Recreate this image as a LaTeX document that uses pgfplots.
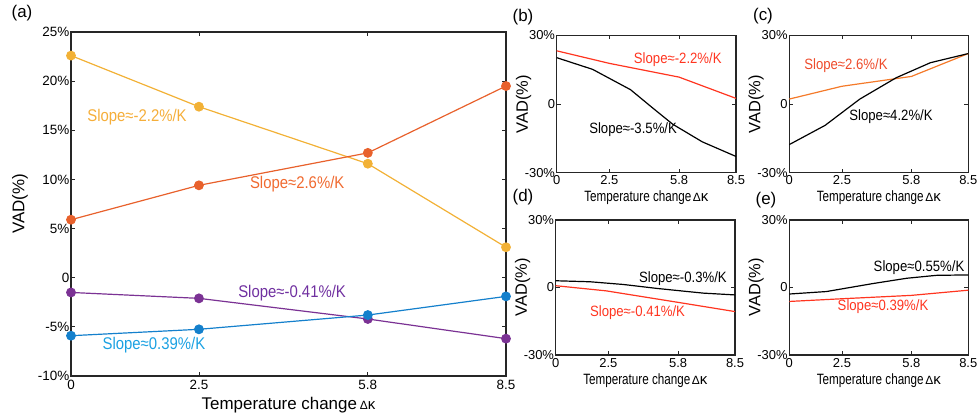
\documentclass[border=0pt]{standalone}
\usepackage{pgfplots}
\pgfplotsset{compat=1.18}
\usepackage{fontspec}
\setmainfont{Liberation Sans}
\newfontfamily\condA[FakeStretch=0.88]{Liberation Sans}
\newfontfamily\condB[FakeStretch=0.78]{Liberation Sans}
\definecolor{cyel}{HTML}{F2B136}
\definecolor{cora}{HTML}{E8612C}
\definecolor{cpur}{HTML}{7B3294}
\definecolor{cblu}{HTML}{1480CC}
\definecolor{tyel}{HTML}{F5AE3A}
\definecolor{tora}{HTML}{F06A30}
\definecolor{tpur}{HTML}{7030A0}
\definecolor{tblu}{HTML}{1BA1E2}
\definecolor{cred}{HTML}{FF3520}
\definecolor{corc}{HTML}{F47A2A}
\definecolor{treC}{HTML}{EE4B2B}
\newcommand{\dk}{\,{\fontsize{12}{12}\selectfont Δ}{\fontsize{15}{15}\selectfont κ}}
\pgfplotsset{
  base/.style={scale only axis, clip=false,
    axis line style={line width=1.2bp, black!85},
    tick style={black!85, line width=0.8bp},
    tick align=inside,
    major tick length=4bp,
    /pgf/number format/assume math mode=true,
    tick label style={font=\fontsize{13.5}{13.5}\selectfont},
    xmin=0, xmax=8.5,
    xtick={0,2.5,5.8,8.5}, xticklabels={0,2.5,5.8,8.5},
    xticklabel style={yshift=-1bp},
    yticklabel style={inner xsep=1.5bp},
  },
  small/.style={base, ymin=-30, ymax=30, ytick={-30,0,30},
    yticklabels={-30\%,0,30\%},
    tick label style={font=\fontsize{13}{13}\selectfont},
    xticklabel style={yshift=0bp, inner ysep=2bp},
    xlabel={{\condB\fontsize{15}{15}\selectfont Temperature change}\dk},
    ylabel={\fontsize{16.5}{16.5}\selectfont VAD(\%)},
    ylabel style={at={(axis description cs:-0.185,0.5)}, anchor=center},
  },
}
\begin{document}
\begin{tikzpicture}
\path[use as bounding box] (0bp,0bp) rectangle (979bp,419bp);
% panel (a)
\begin{axis}[base, at={(71bp,43bp)}, anchor=south west, width=435bp, height=344bp,
  ymin=-10, ymax=25, ytick={-10,-5,0,5,10,15,20,25},
  yticklabels={-10\%,-5\%,0,5\%,10\%,15\%,20\%,25\%},
  xlabel={\fontsize{17}{17}\selectfont Temperature change\dk},
  xlabel style={at={(axis description cs:0.5,-0.084)}, anchor=center},
  ylabel={\fontsize{17}{17}\selectfont VAD(\%)},
  ylabel style={at={(axis description cs:-0.117,0.5)}, anchor=center},
  every axis plot/.append style={line width=1.2bp, mark=*, mark size=4.3bp},
]
\addplot[cyel, mark options={fill=cyel, draw=cyel}] coordinates {(0,22.6)(2.5,17.4)(5.8,11.6)(8.5,3.1)};
\addplot[cora, mark options={fill=cora, draw=cora}] coordinates {(0,5.9)(2.5,9.4)(5.8,12.7)(8.5,19.5)};
\addplot[cpur, mark options={fill=cpur, draw=cpur}] coordinates {(0,-1.5)(2.5,-2.1)(5.8,-4.2)(8.5,-6.2)};
\addplot[cblu, mark options={fill=cblu, draw=cblu}] coordinates {(0,-5.9)(2.5,-5.25)(5.8,-3.8)(8.5,-1.9)};
\node[tyel, font=\condA\fontsize{17}{17}\selectfont] at (axis cs:1.29,16.35) {Slope≈-2.2\%/K};
\node[tora, font=\condA\fontsize{17}{17}\selectfont] at (axis cs:4.42,9.53) {Slope≈2.6\%/K};
\node[tpur, font=\condA\fontsize{17}{17}\selectfont] at (axis cs:4.32,-1.56) {Slope≈-0.41\%/K};
\node[tblu, font=\condA\fontsize{17}{17}\selectfont] at (axis cs:1.62,-6.85) {Slope≈0.39\%/K};
\end{axis}
\node[font=\fontsize{17}{17}\selectfont] at (22bp,406bp) {(a)};
% panel (b)
\begin{axis}[small, at={(556.7bp,246.3bp)}, anchor=south west, width=179.3bp, height=137.2bp,
  xlabel style={at={(axis description cs:0.5,-0.18)}, anchor=center},
  every axis plot/.append style={line width=1.2bp, no marks}]
\addplot[cred] coordinates {(0,23.3)(2.5,17.8)(5.8,11.8)(8.5,2.5)};
\addplot[black] coordinates {(0,20.3)(1.7,15.2)(3.5,6.3)(4.59,-2.0)(5.5,-8.8)(6.9,-16.5)(8.5,-22.9)};
\node[cred, font=\condA\fontsize{15}{15}\selectfont] at (axis cs:5.74,19.5) {Slope≈-2.2\%/K};
\node[black, font=\condA\fontsize{15}{15}\selectfont] at (axis cs:3.62,-11) {Slope≈-3.5\%/K};
\end{axis}
\node[font=\fontsize{17}{17}\selectfont] at (523bp,402bp) {(b)};
% panel (c)
\begin{axis}[small, at={(789.3bp,246.3bp)}, anchor=south west, width=179bp, height=137.2bp,
  xlabel style={at={(axis description cs:0.5,-0.18)}, anchor=center},
  every axis plot/.append style={line width=1.2bp, no marks}]
\addplot[corc] coordinates {(0,2.2)(2.5,7.8)(5.8,12.1)(8.5,22.1)};
\addplot[black] coordinates {(0,-17.7)(1.7,-9.3)(3.35,2.2)(5.07,11.5)(6.7,18.1)(8.5,22.1)};
\node[treC, font=\condA\fontsize{15}{15}\selectfont] at (axis cs:2.69,16.8) {Slope≈2.6\%/K};
\node[black, font=\condA\fontsize{15}{15}\selectfont] at (axis cs:4.83,-5.3) {Slope≈4.2\%/K};
\end{axis}
\node[font=\fontsize{17}{17}\selectfont] at (763bp,403bp) {(c)};
% panel (d)
\begin{axis}[small, at={(555.7bp,64bp)}, anchor=south west, width=179.3bp, height=135bp,
  xlabel style={at={(axis description cs:0.5,-0.19)}, anchor=center},
  every axis plot/.append style={line width=1.2bp, no marks}]
\addplot[black] coordinates {(0,3.0)(1.63,2.55)(3.2,1.35)(4.79,-0.4)(6.36,-1.9)(7.0,-2.5)(8.5,-3.3)};
\addplot[cred] coordinates {(0,0.8)(2.4,-1.5)(5.8,-6.6)(8.5,-10.7)};
\node[black, font=\condA\fontsize{15}{15}\selectfont] at (axis cs:6.03,3.9) {Slope≈-0.3\%/K};
\node[cred, font=\condA\fontsize{15}{15}\selectfont] at (axis cs:3.88,-11.3) {Slope≈-0.41\%/K};
\end{axis}
\node[font=\fontsize{17}{17}\selectfont] at (523bp,222bp) {(d)};
% panel (e)
\begin{axis}[small, at={(789.3bp,64bp)}, anchor=south west, width=179bp, height=135bp,
  xlabel style={at={(axis description cs:0.5,-0.19)}, anchor=center},
  every axis plot/.append style={line width=1.2bp, no marks}]
\addplot[black] coordinates {(0,-2.9)(1.76,-1.8)(4.0,1.8)(5.57,4.1)(6.98,5.4)(8.5,5.6)};
\addplot[cred] coordinates {(0,-6.2)(2.5,-5.0)(5.8,-3.5)(8.5,-1.2)};
\node[black, font=\condA\fontsize{15}{15}\selectfont] at (axis cs:6.16,8.9) {Slope≈0.55\%/K};
\node[cred, font=\condA\fontsize{15}{15}\selectfont] at (axis cs:4.45,-8.7) {Slope≈0.39\%/K};
\end{axis}
\node[font=\fontsize{17}{17}\selectfont] at (766bp,219bp) {(e)};
\end{tikzpicture}
\end{document}
